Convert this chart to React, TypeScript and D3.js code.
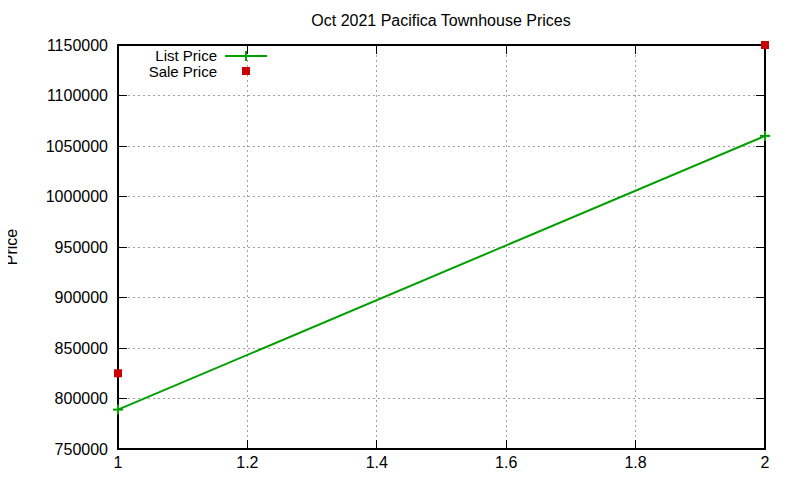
import React, { useEffect, useRef } from 'react';
import * as d3 from 'd3';

const xValues = [1, 2];
const listPrices = [789000, 1060000];
const salePrices = [825000, 1150000];
const xTicks = [1, 1.2, 1.4, 1.6, 1.8, 2];
const yTicks = [750000, 800000, 850000, 900000, 950000, 1000000, 1050000, 1100000, 1150000];
const title = 'Oct 2021 Pacifica Townhouse Prices';
const yLabel = 'Price';
const seriesNames = ['List Price', 'Sale Price'];

const W = 800;
const H = 480;
const FONT = '"Liberation Sans", Arial, sans-serif';

const App: React.FC = () => {
  const ref = useRef<SVGSVGElement>(null);

  useEffect(() => {
    if (!ref.current) return;
    const svg = d3.select(ref.current);
    svg.selectAll('*').remove();

    const left = 118, right = 765, top = 45, bottom = 449;
    const x = d3.scaleLinear().domain([1, 2]).range([left, right]);
    const y = d3.scaleLinear().domain([750000, 1150000]).range([bottom, top]);

    svg.append('rect').attr('width', W).attr('height', H).attr('fill', 'white');

    // grid
    const grid = svg.append('g').attr('stroke', '#a0a0a0').attr('stroke-width', 1)
      .attr('stroke-dasharray', '2,3').attr('shape-rendering', 'crispEdges');
    xTicks.slice(1, -1).forEach(t => {
      grid.append('line').attr('x1', x(t)).attr('x2', x(t)).attr('y1', top).attr('y2', bottom);
    });
    yTicks.slice(1, -1).forEach(t => {
      grid.append('line').attr('x1', left).attr('x2', right).attr('y1', y(t)).attr('y2', y(t));
    });

    // ticks (mirrored, inward)
    const ticks = svg.append('g').attr('stroke', 'black').attr('stroke-width', 1)
      .attr('shape-rendering', 'crispEdges');
    yTicks.forEach(t => {
      ticks.append('line').attr('x1', left).attr('x2', left + 9).attr('y1', y(t)).attr('y2', y(t));
      ticks.append('line').attr('x1', right).attr('x2', right - 9).attr('y1', y(t)).attr('y2', y(t));
    });
    xTicks.forEach(t => {
      ticks.append('line').attr('x1', x(t)).attr('x2', x(t)).attr('y1', bottom).attr('y2', bottom - 9);
      ticks.append('line').attr('x1', x(t)).attr('x2', x(t)).attr('y1', top).attr('y2', top + 9);
    });

    // frame
    svg.append('rect').attr('x', left).attr('y', top).attr('width', right - left)
      .attr('height', bottom - top).attr('fill', 'none').attr('stroke', 'black')
      .attr('stroke-width', 1.2).attr('shape-rendering', 'crispEdges');

    const text = svg.append('g').attr('font-family', FONT).attr('font-size', 16).attr('fill', 'black');
    yTicks.forEach(t => {
      text.append('text').attr('x', left - 10).attr('y', y(t)).attr('dy', '0.35em')
        .attr('text-anchor', 'end').text(String(t));
    });
    xTicks.forEach(t => {
      text.append('text').attr('x', x(t)).attr('y', bottom + 19)
        .attr('text-anchor', 'middle').text(d3.format('~g')(t));
    });
    text.append('text').attr('x', 441).attr('y', 26).attr('text-anchor', 'middle').text(title);
    text.append('text').attr('transform', `translate(17,247) rotate(-90)`)
      .attr('text-anchor', 'middle').text(yLabel);

    // list price line
    const green = '#00a000';
    const red = '#cc0000';
    const line = d3.line<number>().x((_, i) => x(xValues[i])).y(d => y(d));
    svg.append('path').attr('d', line(listPrices)).attr('fill', 'none')
      .attr('stroke', green).attr('stroke-width', 2);
    const plus = (g: d3.Selection<SVGGElement, unknown, null, undefined>, cx: number, cy: number) => {
      g.append('line').attr('x1', cx - 5).attr('x2', cx + 5).attr('y1', cy).attr('y2', cy);
      g.append('line').attr('x1', cx).attr('x2', cx).attr('y1', cy - 5).attr('y2', cy + 5);
    };
    const pg = svg.append('g').attr('stroke', green).attr('stroke-width', 2);
    listPrices.forEach((v, i) => plus(pg, x(xValues[i]), y(v)));

    svg.append('g').selectAll('rect').data(salePrices).enter().append('rect')
      .attr('x', (_, i) => x(xValues[i]) - 4).attr('y', d => y(d) - 4)
      .attr('width', 8).attr('height', 8).attr('fill', red);

    // legend
    const lx = 246;
    const legend = svg.append('g').attr('font-family', FONT).attr('font-size', 15).attr('fill', 'black');
    legend.append('text').attr('x', 217).attr('y', 56).attr('dy', '0.33em')
      .attr('text-anchor', 'end').text(seriesNames[0]);
    legend.append('text').attr('x', 217).attr('y', 71).attr('dy', '0.38em')
      .attr('text-anchor', 'end').text(seriesNames[1]);
    svg.append('line').attr('x1', 225).attr('x2', 267).attr('y1', 56).attr('y2', 56)
      .attr('stroke', green).attr('stroke-width', 2);
    plus(pg, lx, 56);
    svg.append('rect').attr('x', lx - 4).attr('y', 71 - 4).attr('width', 8).attr('height', 8).attr('fill', red);
  }, []);

  return <svg ref={ref} width={W} height={H} style={{ display: 'block', margin: -8 }} />;
};

export default App;
